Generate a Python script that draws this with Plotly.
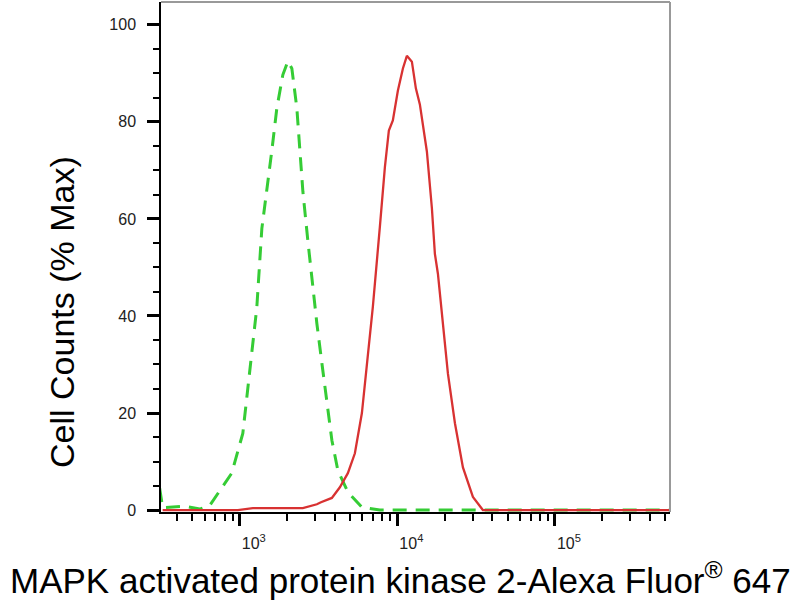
import plotly.graph_objects as go

# isotype control (green dashed)
iso_x = [310, 324, 448, 557, 646, 889, 1045, 1191, 1282, 1380, 1484, 1596, 1718, 1876, 2019, 2140,
         2302, 2405, 2513, 2705, 2867, 3085, 3320, 3568, 3840, 4190, 4850, 5955, 7740, 20000, 100000, 540000]
iso_y = [4.5, 0.5, 0.8, 0.2, 1, 7.6, 15.8, 32.8, 41.7, 58, 65.7, 74, 82.8, 89.7, 92.5, 91,
         82.8, 74, 65.7, 55.4, 47.2, 38.4, 30.2, 22, 14.4, 8.2, 3.7, 0.6, 0, 0, 0, 0]

# MAPKAPK2 stained sample (red)
mk2_x = [324, 971, 1210, 2512, 3085, 3275, 3840, 4315, 4850, 5375, 5955, 6500, 6990, 7740, 8330, 8830,
         9360, 10070, 10840, 11490, 12360, 13100, 13890, 15390, 16560, 17300, 18080, 19450, 20930,
         23190, 26060, 30150, 34870, 100000, 540000]
mk2_y = [0, 0, 0.4, 0.4, 1.2, 1.6, 2.5, 4.7, 7.6, 11.7, 20, 31.4, 41.9, 58.3, 70.6, 78.2,
         80.3, 86.4, 91, 93.6, 92.4, 86.9, 83.6, 73.9, 62.2, 52.8, 48.7, 38.4, 28.1,
         17.9, 8.8, 2.7, 0, 0, 0]

x_ticks = [1000, 10000, 100000]
x_labels = ['10<sup>3</sup>', '10<sup>4</sup>', '10<sup>5</sup>']
x_minor = [m * d for d in [100, 1000, 10000, 100000] for m in range(2, 10) if 300 < m * d < 540000]
y_ticks = [0, 20, 40, 60, 80, 100]

font = 'Arial, Liberation Sans, sans-serif'

fig = go.Figure()
fig.add_trace(go.Scatter(x=iso_x, y=iso_y, mode='lines',
                         line=dict(color='#35cc35', width=3, dash='14px,9px')))
fig.add_trace(go.Scatter(x=mk2_x, y=mk2_y, mode='lines',
                         line=dict(color='#d83232', width=2.3)))

fig.update_xaxes(type='log', range=[2.5, 5.73], showgrid=False, zeroline=False,
                 showline=True, linecolor='black', linewidth=1.5,
                 ticks='outside', ticklen=12, tickwidth=2.5, tickcolor='black',
                 tickmode='array', tickvals=x_ticks, ticktext=x_labels,
                 ticklabelshift=14, ticklabelstandoff=4,
                 tickfont=dict(family=font, size=16, color='#222'),
                 minor=dict(ticks='outside', ticklen=7, tickwidth=1.5, tickcolor='black',
                            tickmode='array', tickvals=x_minor))
fig.update_yaxes(range=[-0.4, 104.7], showgrid=False, zeroline=False,
                 showline=True, linecolor='black', linewidth=1.5,
                 ticks='outside', ticklen=12, tickwidth=2.5, tickcolor='black',
                 tickmode='array', tickvals=y_ticks, ticklabelstandoff=8,
                 tickfont=dict(family=font, size=16, color='#222'),
                 minor=dict(ticks='outside', ticklen=6, tickwidth=1.5, tickcolor='black', dtick=5))

# grey frame on top and right
fig.add_shape(type='line', xref='paper', yref='paper', x0=0, x1=1, y0=1, y1=1,
              line=dict(color='#999', width=2))
fig.add_shape(type='line', xref='paper', yref='paper', x0=1, x1=1, y0=0, y1=1,
              line=dict(color='#999', width=2))

fig.add_annotation(text='Cell Counts (% Max)', textangle=-90, showarrow=False,
                   xref='paper', yref='paper', x=(62 - 161) / 509, y=(512 - 312) / 510,
                   xanchor='center', yanchor='middle',
                   font=dict(family=font, size=34, color='black'))
fig.add_annotation(text='MAPK activated protein kinase 2-Alexa Fluor<sup>®</sup> 647', showarrow=False,
                   xref='paper', yref='paper', x=(400 - 161) / 509, y=(512 - 578) / 510,
                   xanchor='center', yanchor='middle',
                   font=dict(family=font, size=35, color='black'))

fig.update_layout(width=800, height=600, showlegend=False,
                  margin=dict(l=161, r=130, t=2, b=88),
                  plot_bgcolor='white', paper_bgcolor='white')

fig.write_html("out.html", config={'displayModeBar': False},
               post_script="document.body.style.margin='0';")
